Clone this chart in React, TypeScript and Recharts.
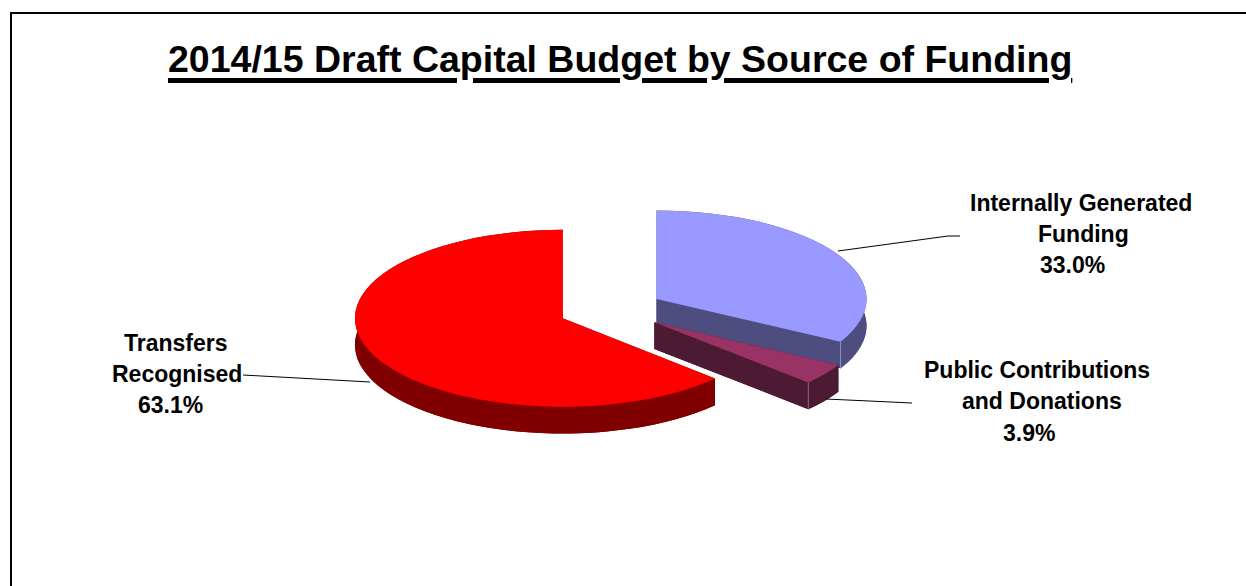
import { PieChart, Pie } from "recharts";

const sources = ["Internally Generated Funding", "Public Contributions and Donations", "Transfers Recognised"];
const shares = [33.0, 3.9, 63.1];
const topColors = ["#9999FF", "#993366", "#FF0000"];
const wallColors = ["#4D4D80", "#4D1A33", "#800000"];
const edgeColors = ["#8F8FBF", "#8A6A80", "#800000"];

const TITLE = "2014/15 Draft Capital Budget by Source of Funding";
const FONT = '"Liberation Sans", Arial, sans-serif';

const WIDTH = 1246;
const HEIGHT = 586;
const CX = 610;
const CY = 318;
const RADIUS = 209;
const TILT = 0.4235;
const DEPTH = 26.7;

// exploded slices, offset from the pie centre
const sliceOffsets = [
  { dx: 46.5, dy: -19, r: 1.005 },
  { dx: 44.3, dy: 4.3, r: 1.005 },
  { dx: -47.3, dy: 0.3, r: 0.994 },
];

const labelLines = [
  [
    { text: "Internally Generated", x: 970, y: 211 },
    { text: "Funding", x: 1038, y: 242 },
    { x: 1040, y: 273 },
  ],
  [
    { text: "Public Contributions", x: 924, y: 378 },
    { text: "and Donations", x: 962, y: 409 },
    { x: 1003, y: 441 },
  ],
  [
    { text: "Transfers", x: 124, y: 351 },
    { text: "Recognised", x: 112, y: 382 },
    { x: 138, y: 413 },
  ],
];

const leaderLines = [
  "838,251 948,236 960,236",
  "826,399 912,403",
  "370,382 243,375",
];

const tableData = sources.map((name, i) => ({
  name,
  value: shares[i],
  fill: topColors[i],
}));

function Slice3D(props: any) {
  const { cx, cy, outerRadius, startAngle, endAngle, index } = props;
  const off = sliceOffsets[index];
  const rx = outerRadius * off.r;
  const ry = outerRadius * TILT;
  const ox = cx + off.dx;
  const oy = cy + off.dy;
  const pt = (deg: number) => {
    const a = (deg * Math.PI) / 180;
    return { x: ox + rx * Math.cos(a), y: oy - ry * Math.sin(a), s: Math.sin(a) };
  };
  const p1 = pt(startAngle);
  const p2 = pt(endAngle);
  const large = Math.abs(endAngle - startAngle) > 180 ? 1 : 0;
  const arc = `A ${rx} ${ry} 0 ${large} 1 ${p2.x} ${p2.y}`;
  const top = `M ${ox} ${oy} L ${p1.x} ${p1.y} ${arc} Z`;
  const band =
    `M ${p1.x} ${p1.y} ${arc} L ${p2.x} ${p2.y + DEPTH} ` +
    `A ${rx} ${ry} 0 ${large} 0 ${p1.x} ${p1.y + DEPTH} Z`;
  const face = (p: { x: number; y: number }) =>
    `M ${ox} ${oy} L ${p.x} ${p.y} L ${p.x} ${p.y + DEPTH} L ${ox} ${oy + DEPTH} Z`;
  return (
    <g>
      <path d={top} transform={`translate(0 ${DEPTH})`} fill={wallColors[index]} />
      <path d={band} fill={wallColors[index]} />
      <path d={face(p1)} fill={wallColors[index]} />
      <path d={face(p2)} fill={wallColors[index]} />
      {p2.s < 0 && (
        <line x1={p2.x} y1={p2.y} x2={p2.x} y2={p2.y + DEPTH} stroke={edgeColors[index]} strokeWidth={1} />
      )}
      <path d={top} fill={topColors[index]} />
    </g>
  );
}

function SliceLabel(props: any) {
  const { index, value } = props;
  return (
    <g>
      <polyline points={leaderLines[index]} fill="none" stroke="#000" strokeWidth={1} />
      {labelLines[index].map((line, i) => (
        <text
          key={i}
          x={line.x}
          y={line.y}
          fontFamily={FONT}
          fontWeight="bold"
          fontSize={23}
          fill="#000"
        >
          {line.text ?? `${value.toFixed(1)}%`}
        </text>
      ))}
    </g>
  );
}

export default function App() {
  return (
    <div style={{ position: "absolute", left: 0, top: 0, width: WIDTH, height: HEIGHT, overflow: "hidden", background: "#fff" }}>
      <div
        style={{
          position: "absolute",
          left: 10,
          top: 12,
          right: 0,
          bottom: 0,
          borderLeft: "2px solid #000",
          borderTop: "2px solid #000",
        }}
      />
      <div
        style={{
          position: "absolute",
          left: 168,
          top: 37,
          whiteSpace: "nowrap",
          fontFamily: FONT,
          fontWeight: "bold",
          fontSize: 37.5,
          lineHeight: "44px",
          color: "#000",
          textDecoration: "underline",
          textDecorationThickness: 5,
          textUnderlineOffset: 6,
        }}
      >
        {TITLE}
      </div>
      <PieChart width={WIDTH} height={HEIGHT} margin={{ top: 0, right: 0, bottom: 0, left: 0 }} style={{ position: "absolute", left: 0, top: 0 }}>
        <Pie
          data={tableData}
          dataKey="value"
          nameKey="name"
          cx={CX}
          cy={CY}
          outerRadius={RADIUS}
          startAngle={90}
          endAngle={-270}
          stroke="none"
          shape={Slice3D}
          label={SliceLabel}
          labelLine={false}
          isAnimationActive={false}
        />
      </PieChart>
    </div>
  );
}
